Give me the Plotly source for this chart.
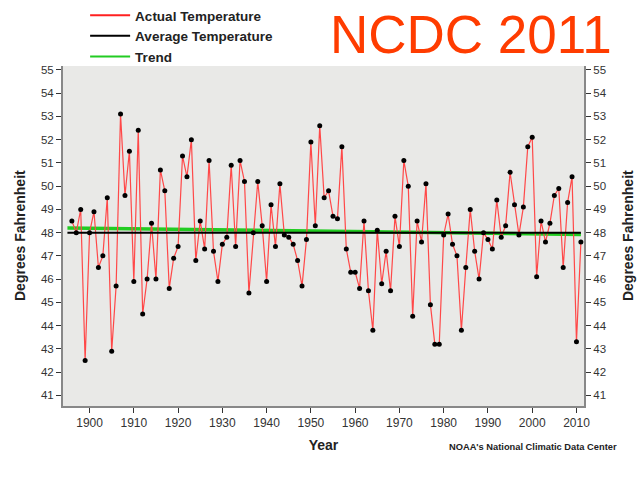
import plotly.graph_objects as go

# annual values
years = list(range(1896, 2012))
temps = [
    48.5, 48.0, 49.0, 42.5, 48.0, 48.9, 46.5, 47.0, 49.5, 42.9,   # 1896-1905
    45.7, 53.1, 49.6, 51.5, 45.9, 52.4, 44.5, 46.0, 48.4, 46.0,   # 1906-1915
    50.7, 49.8, 45.6, 46.9, 47.4, 51.3, 50.4, 52.0, 46.8, 48.5,   # 1916-1925
    47.3, 51.1, 47.2, 45.9, 47.5, 47.8, 50.9, 47.4, 51.1, 50.2,   # 1926-1935
    45.4, 48.0, 50.2, 48.3, 45.9, 49.2, 47.4, 50.1, 47.9, 47.8,   # 1936-1945
    47.5, 46.8, 45.7, 47.7, 51.9, 48.3, 52.6, 49.5, 49.8, 48.7,   # 1946-1955
    48.6, 51.7, 47.3, 46.3, 46.3, 45.6, 48.5, 45.5, 43.8, 48.1,   # 1956-1965
    45.8, 47.2, 45.5, 48.7, 47.4, 51.1, 50.0, 44.4, 48.5, 47.6,   # 1966-1975
    50.1, 44.9, 43.2, 43.2, 47.9, 48.8, 47.5, 47.0, 43.8, 46.5,   # 1976-1985
    49.0, 47.2, 46.0, 48.0, 47.7, 47.3, 49.4, 47.8, 48.3, 50.6,   # 1986-1995
    49.2, 47.9, 49.1, 51.7, 52.1, 46.1, 48.5, 47.6, 48.4, 49.6,   # 1996-2005
    49.9, 46.5, 49.3, 50.4, 43.3, 47.6,                           # 2006-2011
]

line_years = [1895, 2011]
average = [48.0, 48.0]
trend = [48.2, 47.92]

y_ticks = list(range(41, 56))
x_ticks = list(range(1900, 2011, 10))

font = "Liberation Sans, Arial, sans-serif"

fig = go.Figure()

fig.add_trace(go.Scatter(
    x=line_years, y=trend, mode="lines", name="Trend",
    line=dict(color="#22CC22", width=3.5), showlegend=False))
fig.add_trace(go.Scatter(
    x=line_years, y=average, mode="lines", name="Average Temperature",
    line=dict(color="black", width=2), showlegend=False, yaxis="y2"))
fig.add_trace(go.Scatter(
    x=years, y=temps, mode="lines+markers", name="Actual Temperature",
    line=dict(color="#FF4848", width=1.2),
    marker=dict(color="black", size=5), showlegend=False))

# legend entries (drawn in the order of the reference)
for nm, col in [("Actual Temperature", "#FF2020"),
                ("Average Temperature", "black"),
                ("Trend", "#22CC22")]:
    fig.add_trace(go.Scatter(x=[None], y=[None], mode="lines",
                             name="<b>" + nm + "</b>",
                             line=dict(color=col, width=2)))

yax = dict(range=[40.54, 55.17], tickvals=y_ticks, ticks="outside",
           ticklen=5, tickcolor="#333", showgrid=False, zeroline=False,
           showline=True, linecolor="#888", linewidth=2,
           tickfont=dict(size=11.5, color="#333"))

ytitle = dict(text="<b>Degrees Fahrenheit</b>", textangle=-90,
              xref="paper", yref="paper", y=0.5, showarrow=False,
              xanchor="center", yanchor="middle",
              font=dict(size=14, color="#222", family=font))

fig.update_layout(
    width=640, height=480,
    margin=dict(l=63, r=56, t=66, b=74, autoexpand=False),
    paper_bgcolor="white", plot_bgcolor="#E9E9E7",
    font=dict(family=font),
    xaxis=dict(range=[1894, 2011.7], tickvals=x_ticks, ticks="outside",
               ticklen=5, tickcolor="#333", showgrid=False, zeroline=False,
               showline=True, linecolor="#888", linewidth=2,
               tickangle=0,
               tickfont=dict(size=12, color="#333"),
               title=dict(text="<b>Year</b>", font=dict(size=14, color="#222"),
                          standoff=11)),
    yaxis=yax,
    yaxis2=dict(yax, overlaying="y", side="right"),
    legend=dict(x=0.133, y=1.0, xref="container", yref="container",
                xanchor="left", yanchor="top",
                bgcolor="rgba(0,0,0,0)", tracegroupgap=0,
                font=dict(size=13.5, color="#222", family=font),
                itemwidth=40),
    annotations=[
        dict(ytitle, x=-0.0825),
        dict(ytitle, x=1.0845),
        dict(text="NCDC 2011", x=1.0557, y=1.094, xref="paper", yref="paper",
             xanchor="right", yanchor="middle", showarrow=False, borderpad=0,
             font=dict(size=53, color="#FF3C00", family=font)),
        dict(text="<b>NOAA's National Climatic Data Center</b>",
             x=1.068, y=-0.1216, xref="paper", yref="paper",
             xanchor="right", yanchor="middle", showarrow=False,
             font=dict(size=9.3, color="#222", family=font)),
    ],
)

fig.write_html("out.html", config={"displayModeBar": False},
               post_script="document.body.style.margin='0px';")
